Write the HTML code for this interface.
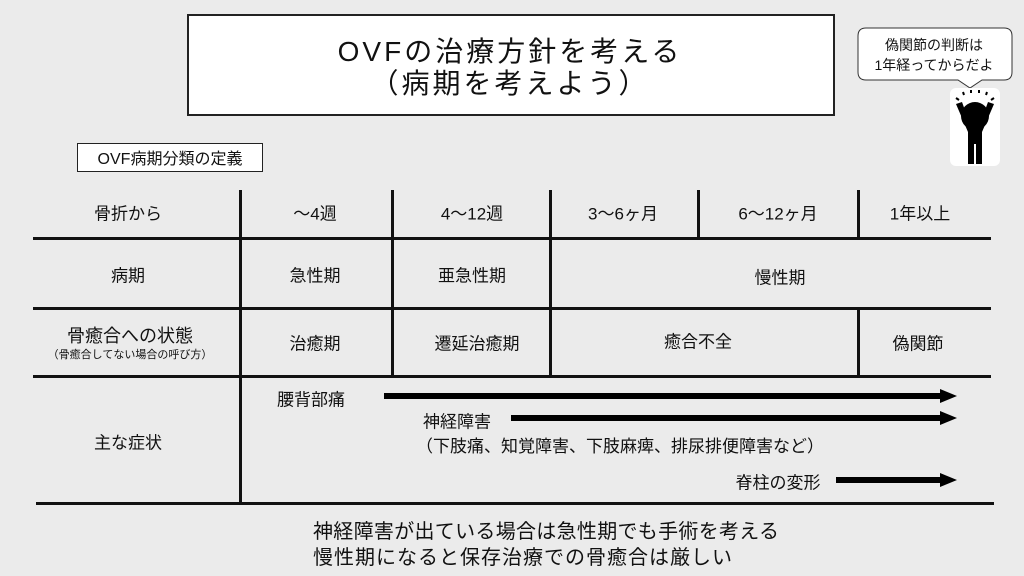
<!DOCTYPE html>
<html><head><meta charset="utf-8"><style>
body{margin:0;width:1024px;height:576px;background:#ebebeb;position:relative;overflow:hidden;font-family:"Liberation Sans","Noto Sans CJK JP",sans-serif;color:#111}
.a{position:absolute}
.t{position:absolute;font-size:17px;text-align:center;white-space:nowrap;transform:translate(-50%,-50%)}
.h{position:absolute;height:3px;background:#111}
.v{position:absolute;width:3px;background:#111}
</style></head><body>
<div class="a" style="left:187px;top:14px;width:644px;height:98px;border:2px solid #222;background:#fff"></div>
<div class="t" style="left:510px;top:50px;font-size:28px;letter-spacing:3px">OVFの治療方針を考える</div>
<div class="t" style="left:510px;top:82px;font-size:28px;letter-spacing:3px">（病期を考えよう）</div>
<div class="a" style="left:77px;top:143px;width:184px;height:27px;border:1px solid #222;background:#fff"></div>
<div class="t" style="left:170px;top:157px;font-size:16px">OVF病期分類の定義</div>

<svg class="a" style="left:850px;top:20px" width="174" height="150">
<path d="M16,8 H154 Q162,8 162,16 V52 Q162,60 154,60 H132 L120,68 L108,60 H16 Q8,60 8,52 V16 Q8,8 16,8 Z" fill="#fff" stroke="#333" stroke-width="1"/>
<rect x="100" y="68" width="50" height="78" rx="6" fill="#fff"/>
<circle cx="125" cy="96" r="14" fill="#000"/>
<path d="M106,84 L118,112 L118,144 L124,144 L124,124 L126,124 L126,144 L132,144 L132,112 L144,84 L138,82 L130,104 L120,104 L112,82 Z" fill="#000"/>
<g stroke="#000" stroke-width="2"><line x1="106" y1="78" x2="109" y2="80"/><line x1="113" y1="72" x2="114" y2="75"/><line x1="121" y1="70" x2="121" y2="73"/><line x1="129" y1="70" x2="129" y2="73"/><line x1="137" y1="72" x2="136" y2="75"/><line x1="144" y1="78" x2="141" y2="80"/></g>
</svg>
<div class="t" style="left:934px;top:45px;font-size:14px">偽関節の判断は</div>
<div class="t" style="left:934px;top:65px;font-size:14px">1年経ってからだよ</div>

<div class="h" style="left:33px;top:237px;width:958px"></div>
<div class="h" style="left:33px;top:307px;width:958px"></div>
<div class="h" style="left:33px;top:375px;width:958px"></div>
<div class="h" style="left:36px;top:502px;width:958px"></div>
<div class="v" style="left:239px;top:190px;height:314px"></div>
<div class="v" style="left:391px;top:190px;height:187px"></div>
<div class="v" style="left:549px;top:190px;height:187px"></div>
<div class="v" style="left:697px;top:190px;height:49px"></div>
<div class="v" style="left:857px;top:190px;height:49px"></div>
<div class="v" style="left:857px;top:307px;height:70px"></div>

<div class="t" style="left:128px;top:212px">骨折から</div>
<div class="t" style="left:315px;top:212px">～4週</div>
<div class="t" style="left:472px;top:212px">4～12週</div>
<div class="t" style="left:623px;top:212px">3～6ヶ月</div>
<div class="t" style="left:778px;top:212px">6～12ヶ月</div>
<div class="t" style="left:920px;top:212px">1年以上</div>
<div class="t" style="left:128px;top:274px">病期</div>
<div class="t" style="left:315px;top:274px">急性期</div>
<div class="t" style="left:472px;top:274px">亜急性期</div>
<div class="t" style="left:780px;top:276px">慢性期</div>
<div class="t" style="left:130px;top:335px;font-size:18px">骨癒合への状態</div>
<div class="t" style="left:130px;top:354px;font-size:11px">（骨癒合してない場合の呼び方）</div>
<div class="t" style="left:315px;top:342px">治癒期</div>
<div class="t" style="left:477px;top:342px">遷延治癒期</div>
<div class="t" style="left:698px;top:340px">癒合不全</div>
<div class="t" style="left:918px;top:342px">偽関節</div>
<div class="t" style="left:128px;top:441px">主な症状</div>
<div class="t" style="left:311px;top:398px">腰背部痛</div>
<div class="t" style="left:457px;top:420px">神経障害</div>
<div class="a" style="left:416px;top:432px;font-size:17px;white-space:nowrap">（下肢痛、知覚障害、下肢麻痺、排尿排便障害など）</div>
<div class="t" style="left:778px;top:481px">脊柱の変形</div>
<svg class="a" style="left:0;top:0" width="1024" height="576">
<g fill="#000"><rect x="384" y="393" width="558" height="6"/><path d="M940,389 L957,396 L940,403Z"/>
<rect x="511" y="415" width="431" height="6"/><path d="M940,411 L957,418 L940,425Z"/>
<rect x="836" y="477" width="106" height="6"/><path d="M940,473 L957,480 L940,487Z"/></g>
</svg>
<div class="a" style="left:313px;top:515px;font-size:20px;white-space:nowrap;letter-spacing:0.3px">神経障害が出ている場合は急性期でも手術を考える</div>
<div class="a" style="left:313px;top:541px;font-size:20px;white-space:nowrap;letter-spacing:1px">慢性期になると保存治療での骨癒合は厳しい</div>
</body></html>
